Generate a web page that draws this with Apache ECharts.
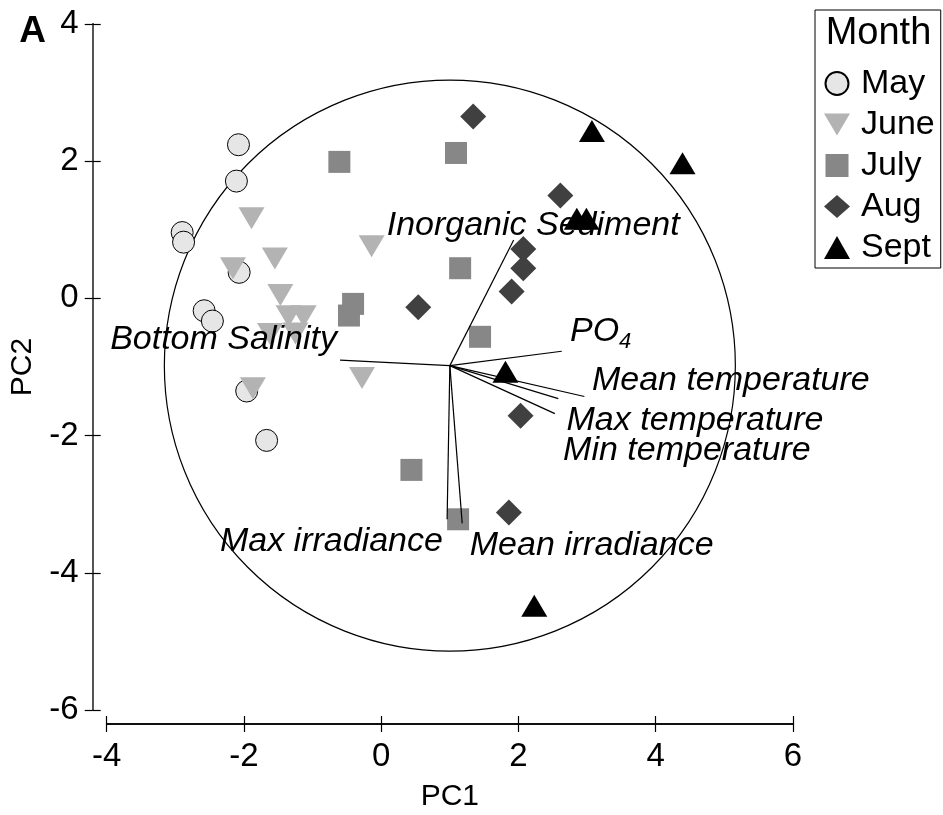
<!DOCTYPE html>
<html><head><meta charset="utf-8">
<script src="https://cdn.jsdelivr.net/npm/echarts@6/dist/echarts.min.js"></script>
<style>html,body{margin:0;padding:0;background:#fff}#c{width:943px;height:815px}</style>
</head><body><div id="c"></div>
<script>
// ---- data ----
const xTicks = [-4, -2, 0, 2, 4, 6];
const yTicks = [-6, -4, -2, 0, 2, 4];
const months = ['May', 'June', 'July', 'Aug', 'Sept'];
const mayPts  = [[-2.08,2.24],[-2.11,1.71],[-2.90,0.96],[-2.88,0.82],[-2.07,0.38],[-2.58,-0.18],[-2.46,-0.33],[-1.96,-1.35],[-1.67,-2.07]];
const junePts = [[-1.89,1.17],[-0.14,0.76],[-2.16,0.44],[-1.55,0.58],[-1.47,0.05],[-1.35,-0.26],[-1.13,-0.26],[-1.62,-0.52],[-1.25,-0.51],[-0.28,-1.16],[-1.87,-1.31]];
const julyPts = [[-0.61,1.99],[1.09,2.12],[1.15,0.44],[-0.41,-0.08],[-0.47,-0.25],[1.44,-0.56],[0.44,-2.50],[1.12,-3.22]];
const augPts  = [[1.34,2.65],[2.61,1.50],[2.07,0.72],[2.07,0.44],[1.90,0.10],[0.54,-0.13],[2.03,-1.71],[1.86,-3.12]];
const septPts = [[3.07,2.44],[4.39,1.97],[2.85,1.16],[2.99,1.16],[1.81,-1.07],[2.23,-4.48]];
const circleCenter = [1.0, -0.98];
const circleRadius = 4.16;
const vectorNames = ['Inorganic Sediment','PO4','Mean temperature','Max temperature','Min temperature','Bottom Salinity','Max irradiance','Mean irradiance'];
const vectorEnds = [[1.93,0.85],[2.63,-0.77],[2.96,-1.43],[2.58,-1.46],[2.53,-1.68],[-0.60,-0.90],[0.96,-3.22],[1.18,-3.28]];
const vectorLabelAt = [[0.08,1.06],[2.75,-0.48],[3.07,-1.20],[2.70,-1.78],[2.65,-2.22],[-3.95,-0.60],[-2.35,-3.55],[1.29,-3.61]];

// ---- chart ----
const FONT = "'Liberation Sans', Arial, Helvetica, sans-serif";
const chart = echarts.init(document.getElementById('c'), null, {renderer: 'canvas'});

function axisCommon(ticks, isX, inside) {
  return {
    type: 'value', gridIndex: 0,
    min: ticks[0], max: ticks[ticks.length - 1], interval: ticks[1] - ticks[0],
    position: isX ? 'bottom' : 'left', offset: 14,
    axisLine: {show: true, onZero: false, lineStyle: isX ? {color: '#000', width: 1.5} : {color: '#555', width: 2}},
    axisTick: {show: true, inside: inside, length: 8, lineStyle: {color: '#000', width: 1.2}},
    axisLabel: {show: !inside, fontSize: 33, color: '#000', fontFamily: FONT, margin: isX ? 16 : 14},
    splitLine: {show: false}
  };
}
const xMain = Object.assign(axisCommon(xTicks, true, false), {name: 'PC1', nameLocation: 'middle', nameGap: 58, nameTextStyle: {fontSize: 30, color: '#000', fontFamily: FONT}});
const yMain = Object.assign(axisCommon(yTicks, false, false), {name: 'PC2', nameLocation: 'middle', nameGap: 55, nameTextStyle: {fontSize: 30, color: '#000', fontFamily: FONT}});
const xIn = axisCommon(xTicks, true, true);
const yIn = axisCommon(yTicks, false, true);

const symbols = {
  May: {symbol: 'circle', size: 22, style: {color: '#e6e6e6', borderColor: '#000', borderWidth: 1, opacity: 1}},
  June: {symbol: 'path://M0,0L26,0L13,22Z', size: [26, 22], style: {color: '#b3b3b3', opacity: 1}},
  July: {symbol: 'rect', size: 22, style: {color: '#878787', opacity: 1}},
  Aug: {symbol: 'diamond', size: [26, 26], style: {color: '#404040', opacity: 1}},
  Sept: {symbol: 'triangle', size: [26, 22], style: {color: '#000', opacity: 1}}
};
const monthData = {May: mayPts, June: junePts, July: julyPts, Aug: augPts, Sept: septPts};

const scatterSeries = months.map(m => ({
  name: m, type: 'scatter', xAxisIndex: 0, yAxisIndex: 0, z: 3,
  symbol: symbols[m].symbol, symbolSize: symbols[m].size,
  itemStyle: symbols[m].style, data: monthData[m],
  emphasis: {disabled: true}
}));

const option = {
  animation: false,
  backgroundColor: '#fff',
  textStyle: {fontFamily: FONT},
  grid: {left: 106.7, top: 24, width: 686.3, height: 686, containLabel: false, outerBoundsMode: 'none'},
  xAxis: [xMain, xIn],
  yAxis: [yMain, yIn],
  legend: {
    orient: 'vertical', left: 815, top: 10, padding: [53, 6, 0, 9], itemGap: 0,
    itemWidth: 26, itemHeight: 23, borderColor: '#000', borderWidth: 1, borderRadius: 0,
    selectedMode: false,
    textStyle: {fontSize: 34, color: '#000', lineHeight: 41, fontFamily: FONT, padding: [0, 0, 0, 6]},
    data: [
      {name: 'May', icon: 'circle'},
      {name: 'June', icon: 'path://M0,0L26,0L13,22Z'},
      {name: 'July', icon: 'path://M0,0L1,0L1,1L0,1Z'},
      {name: 'Aug', icon: 'diamond'},
      {name: 'Sept', icon: 'triangle'}
    ]
  },
  graphic: [
    {type: 'text', x: 32.5, y: 31.7, z: 10, style: {text: 'A', fontSize: 37, fontWeight: 'bold', fontFamily: FONT, fill: '#000', align: 'center', verticalAlign: 'middle', textAlign: 'center', textVerticalAlign: 'middle'}},
    {type: 'text', x: 878.5, y: 34, z: 10, style: {text: 'Month', fontSize: 38, fontFamily: FONT, fill: '#000', align: 'center', verticalAlign: 'middle', textAlign: 'center', textVerticalAlign: 'middle'}}
  ],
  series: [
    {
      name: 'circle', type: 'custom', z: 1, silent: true,
      data: [[circleCenter[0], circleCenter[1], circleRadius]],
      renderItem: function (params, api) {
        const c = api.coord([api.value(0), api.value(1)]);
        const r = api.size([api.value(2), 0])[0];
        return {type: 'circle', shape: {cx: c[0], cy: c[1], r: r}, style: {fill: 'none', stroke: '#000', lineWidth: 1.2}};
      }
    },
    ...scatterSeries,
    {
      name: 'vectors', type: 'custom', z: 4, silent: true,
      data: vectorEnds,
      renderItem: function (params, api) {
        const o = api.coord(circleCenter);
        const e = api.coord([api.value(0), api.value(1)]);
        return {type: 'line', shape: {x1: o[0], y1: o[1], x2: e[0], y2: e[1]}, style: {stroke: '#000', lineWidth: 1.2}};
      }
    },
    {
      name: 'vectorLabels', type: 'custom', z: 5, silent: true,
      data: vectorLabelAt,
      renderItem: function (params, api) {
        const p = api.coord([api.value(0), api.value(1)]);
        const name = vectorNames[params.dataIndex];
        const isPO = name === 'PO4';
        return {
          type: 'text', x: p[0], y: p[1],
          style: {
            text: isPO ? '{a|PO}{b|4}' : name,
            fontSize: 34, fontStyle: 'italic', fontFamily: FONT, fill: '#000',
            align: 'left', verticalAlign: 'middle',
            rich: isPO ? {
              a: {fontSize: 34, fontStyle: 'italic', fontFamily: FONT, lineHeight: 44},
              b: {fontSize: 22, fontStyle: 'italic', fontFamily: FONT, lineHeight: 22, verticalAlign: 'bottom'}
            } : undefined
          }
        };
      }
    }
  ]
};
chart.setOption(option);
</script>
</body></html>
